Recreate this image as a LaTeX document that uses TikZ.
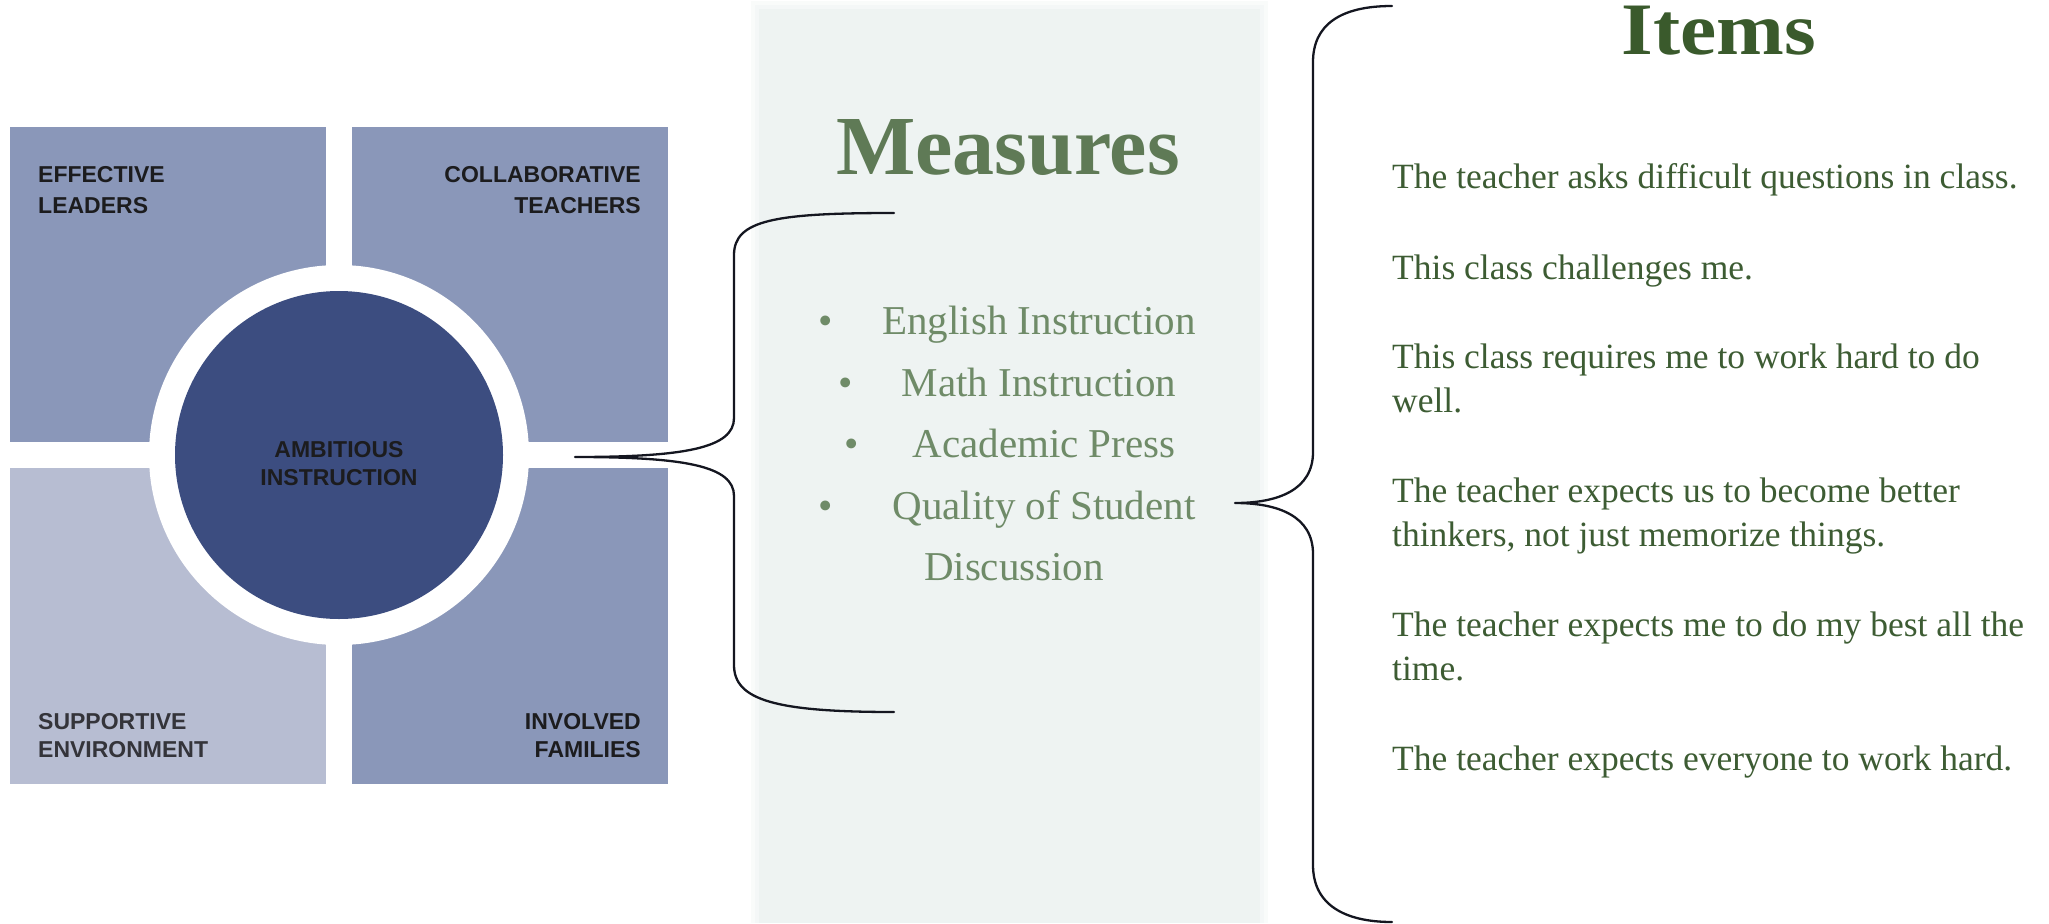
\documentclass[tikz,border=0pt]{standalone}
\usepackage{fontspec}
\setmainfont{Liberation Serif}
\newfontfamily\labelfont{Liberation Sans}
\newfontfamily\titlefont[FakeStretch=1.1]{Liberation Serif}
\definecolor{quad}{RGB}{138,151,185}
\definecolor{quadlight}{RGB}{183,189,210}
\definecolor{core}{RGB}{60,77,128}
\definecolor{panel}{RGB}{238,243,242}
\definecolor{meastitle}{RGB}{95,122,86}
\definecolor{meastext}{RGB}{111,139,104}
\definecolor{itemgreen}{RGB}{61,92,51}
\definecolor{itemtitle}{RGB}{58,90,44}
\definecolor{labeltext}{RGB}{28,28,30}
\definecolor{bracecol}{RGB}{20,22,32}
\tikzset{
  qlabel/.style={inner sep=0pt, text=labeltext, font=\labelfont\bfseries\fontsize{23}{28}\selectfont},
  measitem/.style={inner sep=0pt, anchor=base, text=meastext, font=\fontsize{41}{50}\selectfont},
  bulletmark/.style={inner sep=0pt, anchor=base, text=meastext, font=\fontsize{41}{50}\selectfont},
  itemline/.style={inner sep=0pt, anchor=base west, text=itemgreen, font=\fontsize{35.5}{44}\selectfont},
  bracestroke/.style={draw=bracecol, line width=2.3pt, line cap=round, line join=round},
}
\begin{document}
\begin{tikzpicture}[x=1pt, y=-1pt]
\useasboundingbox (0,0) rectangle (2049,923);
\fill[white] (0,0) rectangle (2049,923);

% ---- quadrant diagram ----
\fill[quad] (10,127) rectangle (326,442);
\fill[quad] (352,127) rectangle (668,442);
\fill[quadlight] (10,468) rectangle (326,784);
\fill[quad] (352,468) rectangle (668,784);
\fill[white] (339,455) circle[radius=190];
\node[circle, fill=core, minimum size=328pt, inner sep=0pt] (core) at (339,455) {};

\node[qlabel, anchor=base west] (eff1) at (38,182.6) {EFFECTIVE};
\node[qlabel, anchor=base west] (eff2) at (38,213.4) {LEADERS};
\node[qlabel, anchor=base east] (col1) at (641,182.6) {COLLABORATIVE};
\node[qlabel, anchor=base east] (col2) at (641,213.4) {TEACHERS};
\node[qlabel, anchor=base west, text={rgb,255:red,52;green,52;blue,58}] (sup1) at (38,729.5) {SUPPORTIVE};
\node[qlabel, anchor=base west, text={rgb,255:red,52;green,52;blue,58}] (sup2) at (38,757.7) {ENVIRONMENT};
\node[qlabel, anchor=base east] (inv1) at (641,729.5) {INVOLVED};
\node[qlabel, anchor=base east] (inv2) at (641,757.7) {FAMILIES};
\node[qlabel, anchor=base] (amb1) at (339,457.6) {AMBITIOUS};
\node[qlabel, anchor=base] (amb2) at (339,485) {INSTRUCTION};

% ---- measures panel ----
\fill[panel!35!white] (751,1) rectangle (1268,923);
\fill[panel!65!white] (755,5) rectangle (1264,923);
\fill[panel] (759,9) rectangle (1260,923);

\node[inner sep=0pt, anchor=base, text=meastitle, font=\bfseries\fontsize{84}{90}\selectfont] (meas) at (1008,174) {Measures};

\node[bulletmark] (b1) at (826,334.5) {•};
\node[measitem] (m1) at (1039,334.5) {English Instruction};
\node[bulletmark] (b2) at (845.5,396) {•};
\node[measitem] (m2) at (1039,396) {Math Instruction};
\node[bulletmark] (b3) at (852,457) {•};
\node[measitem] (m3) at (1044,457) {Academic Press};
\node[bulletmark] (b4) at (826,519) {•};
\node[measitem] (m4) at (1044,519) {Quality of Student};
\node[measitem] (m5) at (1014,580) {Discussion};

% ---- items ----
\node[inner sep=0pt, anchor=base, text=itemtitle, font=\titlefont\bfseries\fontsize{74}{80}\selectfont] (items) at (1719,55) {Items};
\node[itemline] (i1) at (1392,188) {The teacher asks difficult questions in class.};
\node[itemline] (i2) at (1392,279) {This class challenges me.};
\node[itemline] (i3a) at (1392,368) {This class requires me to work hard to do};
\node[itemline] (i3b) at (1392,412) {well.};
\node[itemline] (i4a) at (1392,502) {The teacher expects us to become better};
\node[itemline] (i4b) at (1392,546) {thinkers, not just memorize things.};
\node[itemline] (i5a) at (1392,636) {The teacher expects me to do my best all the};
\node[itemline] (i5b) at (1392,680) {time.};
\node[itemline] (i6) at (1392,770) {The teacher expects everyone to work hard.};

% ---- braces ----
\coordinate (ltop) at (894,213);
\coordinate (ltip) at (575,457);
\coordinate (lbot) at (894,712);
\draw[bracestroke] (ltop) .. controls (775,213) and (734,220) .. (734,255) -- (734,418)
  .. controls (734,448) and (685,457) .. (ltip)
  .. controls (685,457) and (734,466) .. (734,496) -- (734,665)
  .. controls (734,700) and (775,712) .. (lbot);

\coordinate (rtop) at (1392,6);
\coordinate (rtip) at (1235,503);
\coordinate (rbot) at (1392,922);
\draw[bracestroke] (rtop) .. controls (1340,6) and (1313,25) .. (1313,62) -- (1313,452)
  .. controls (1313,490) and (1278,503) .. (rtip)
  .. controls (1278,503) and (1313,516) .. (1313,554) -- (1313,865)
  .. controls (1313,905) and (1345,922) .. (rbot);
\end{tikzpicture}
\end{document}
